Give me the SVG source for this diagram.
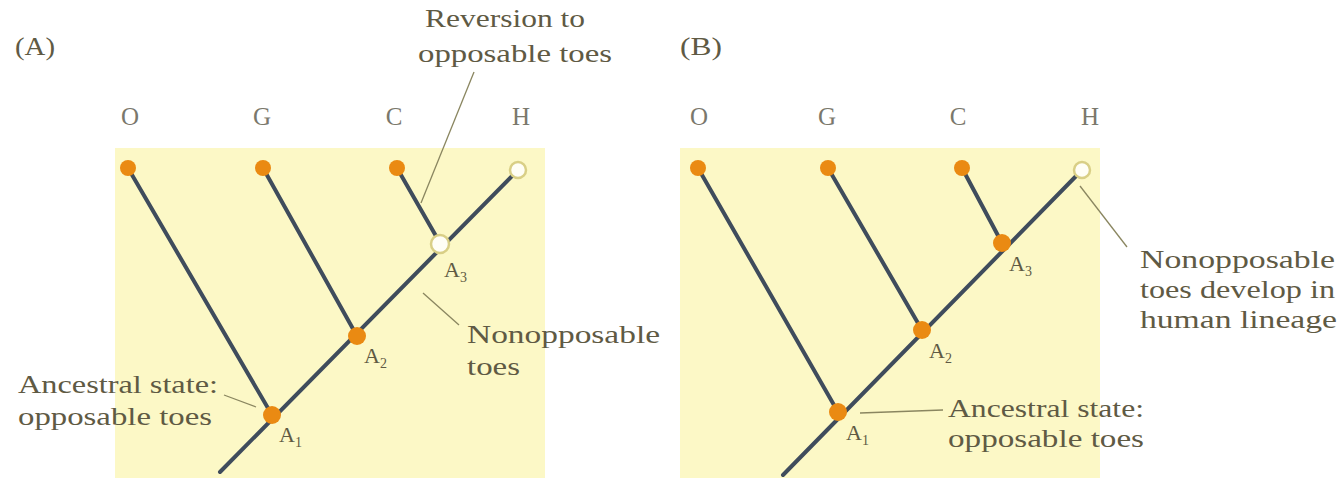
<svg xmlns="http://www.w3.org/2000/svg" width="1340" height="490" viewBox="0 0 1340 490">
<style>
.bg{fill:#fcf8c6}
.br{stroke:#3f4c5c;stroke-width:4;fill:none;stroke-linecap:round}
.ld{stroke:#8a8660;stroke-width:1.3;fill:none}
.dot{fill:#ea8a12}
.open{fill:#fffef5;stroke:#d9cf86;stroke-width:2.5}
text{font-family:"Liberation Serif","DejaVu Serif",serif;fill:#5f5a44;font-size:25px}
.tax{fill:#7a786c}
.node{font-size:22px}
.sub{font-size:14px}
</style>
<rect width="1340" height="490" fill="#ffffff"/>
<g id="panelA">
<rect class="bg" x="115" y="148" width="430" height="330"/>
<text x="15" y="55" textLength="40" lengthAdjust="spacingAndGlyphs">(A)</text>
<g id="A-labels">
<text class="tax" x="130" y="125" text-anchor="middle">O</text>
<text class="tax" x="262" y="125" text-anchor="middle">G</text>
<text class="tax" x="394" y="125" text-anchor="middle">C</text>
<text class="tax" x="521" y="125" text-anchor="middle">H</text>
</g>
<g id="A-connectors">
<path class="br" d="M128,168 L272,415"/>
<path class="br" d="M263,168 L357,336"/>
<path class="br" d="M397,168 L440,243"/>
<path class="br" d="M518,170 L220,472"/>
<path class="ld" d="M474,72 L421,203"/>
<path class="ld" d="M423,293 L459,325"/>
<path class="ld" d="M224,395 L256,407"/>
</g>
<g id="A-O"><circle class="dot" cx="128" cy="168" r="8"/></g>
<g id="A-G"><circle class="dot" cx="263" cy="168" r="8"/></g>
<g id="A-C"><circle class="dot" cx="397" cy="168" r="8"/></g>
<g id="A-H"><circle class="open" cx="518" cy="170" r="8"/></g>
<g id="A-A3"><circle class="open" cx="440" cy="244" r="9"/><text class="node" x="444" y="277">A<tspan class="sub" dy="5">3</tspan></text></g>
<g id="A-A2"><circle class="dot" cx="357" cy="336" r="9"/><text class="node" x="364" y="363">A<tspan class="sub" dy="5">2</tspan></text></g>
<g id="A-A1"><circle class="dot" cx="272" cy="415" r="9"/><text class="node" x="279" y="442">A<tspan class="sub" dy="5">1</tspan></text></g>
<g id="A-notes">
<text x="425" y="27" textLength="160" lengthAdjust="spacingAndGlyphs">Reversion to</text>
<text x="418" y="62" textLength="194" lengthAdjust="spacingAndGlyphs">opposable toes</text>
<text x="467" y="343" textLength="193" lengthAdjust="spacingAndGlyphs">Nonopposable</text>
<text x="467" y="375" textLength="53" lengthAdjust="spacingAndGlyphs">toes</text>
<text x="18" y="393" textLength="200" lengthAdjust="spacingAndGlyphs">Ancestral state:</text>
<text x="18" y="425" textLength="194" lengthAdjust="spacingAndGlyphs">opposable toes</text>
</g>
</g>
<g id="panelB">
<rect class="bg" x="680" y="148" width="420" height="330"/>
<text x="680" y="55" textLength="42" lengthAdjust="spacingAndGlyphs">(B)</text>
<g id="B-labels">
<text class="tax" x="699" y="125" text-anchor="middle">O</text>
<text class="tax" x="827" y="125" text-anchor="middle">G</text>
<text class="tax" x="958" y="125" text-anchor="middle">C</text>
<text class="tax" x="1090" y="125" text-anchor="middle">H</text>
</g>
<g id="B-connectors">
<path class="br" d="M698,168 L838,412"/>
<path class="br" d="M828,168 L922,330"/>
<path class="br" d="M962,168 L1002,243"/>
<path class="br" d="M1082,170 L783,475"/>
<path class="ld" d="M1080,186 L1127,247"/>
<path class="ld" d="M860,413 L943,410"/>
</g>
<g id="B-O"><circle class="dot" cx="698" cy="168" r="8"/></g>
<g id="B-G"><circle class="dot" cx="828" cy="168" r="8"/></g>
<g id="B-C"><circle class="dot" cx="962" cy="168" r="8"/></g>
<g id="B-H"><circle class="open" cx="1082" cy="170" r="8"/></g>
<g id="B-A3"><circle class="dot" cx="1002" cy="243" r="9"/><text class="node" x="1009" y="271">A<tspan class="sub" dy="5">3</tspan></text></g>
<g id="B-A2"><circle class="dot" cx="922" cy="330" r="9"/><text class="node" x="929" y="358">A<tspan class="sub" dy="5">2</tspan></text></g>
<g id="B-A1"><circle class="dot" cx="838" cy="412" r="9"/><text class="node" x="846" y="440">A<tspan class="sub" dy="5">1</tspan></text></g>
<g id="B-notes">
<text x="1140" y="268" textLength="195" lengthAdjust="spacingAndGlyphs">Nonopposable</text>
<text x="1140" y="298" textLength="195" lengthAdjust="spacingAndGlyphs">toes develop in</text>
<text x="1140" y="328" textLength="197" lengthAdjust="spacingAndGlyphs">human lineage</text>
<text x="948" y="417" textLength="196" lengthAdjust="spacingAndGlyphs">Ancestral state:</text>
<text x="948" y="447" textLength="196" lengthAdjust="spacingAndGlyphs">opposable toes</text>
</g>
</g>
</svg>
